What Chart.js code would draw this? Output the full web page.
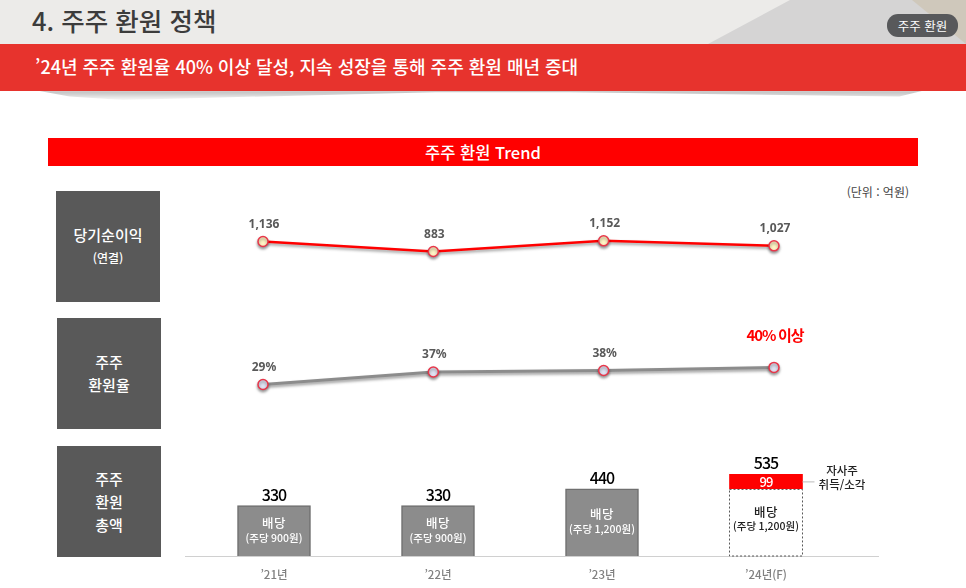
<!DOCTYPE html>
<html lang="ko">
<head>
<meta charset="utf-8">
<title>주주 환원 정책</title>
<script src="https://cdn.jsdelivr.net/npm/chart.js@4"></script>
<style>
  * { margin: 0; padding: 0; box-sizing: border-box; }
  html, body { width: 966px; height: 588px; overflow: hidden; background: #fff; }
  body { position: relative; font-family: "Noto Sans CJK KR", "Noto Sans", sans-serif; }
  .abs { position: absolute; }
  canvas { position: absolute; }
  #header-bg { left: 0; top: 0; width: 966px; height: 44px; background: #ecebe9; }
  #tri-grey { left: 700px; top: 0; width: 266px; height: 44px; background: #d5d4d4; clip-path: polygon(8px 44px, 90px 0, 266px 0, 266px 44px); }
  #tri-tan { left: 912px; top: 0; width: 54px; height: 44px; background: #cfc8bb; clip-path: polygon(0 0, 54px 0, 54px 44px); }
  #title { left: 32px; top: 2px; font-size: 25.5px; font-weight: 500; color: #3c3c3c; line-height: 36px; }
  #badge { left: 887px; top: 14px; width: 71px; height: 23px; border-radius: 11px; background: #58595b; color: #fff; font-size: 12.5px; line-height: 23px; text-align: center; }
  #band-shadow { left: 34px; top: 90px; width: 892px; height: 11px; background: linear-gradient(#b5b5b5, #fff); clip-path: polygon(0 0, 100% 0, 97% 60%, 60% 20%, 45% 20%, 10% 90%, 4% 60%); filter: blur(1.5px); }
  #band { left: 0; top: 44px; width: 966px; height: 47px; background: #e7332d; color: #fff; font-size: 18px; font-weight: 500; line-height: 45px; padding-left: 35px; }
  #section { left: 48px; top: 138px; width: 870px; height: 28px; background: #ff0000; color: #fff; font-size: 16.5px; font-weight: 500; line-height: 28px; text-align: center; }
  #unit { right: 57px; top: 184px; font-size: 12px; color: #444; line-height: 16px; }
  .side { width: 104px; height: 111px; background: #595959; color: #fff; font-size: 15px; font-weight: 500; display: flex; flex-direction: column; justify-content: center; align-items: center; line-height: 23px; padding-bottom: 1px; }
  .side small { font-size: 12px; }
</style>
</head>
<body>
<div class="abs" id="header-bg"></div>
<div class="abs" id="tri-grey"></div>
<div class="abs" id="tri-tan"></div>
<div class="abs" id="title">4. 주주 환원 정책</div>
<div class="abs" id="badge">주주 환원</div>
<div class="abs" id="band-shadow"></div>
<div class="abs" id="band">’24년 주주 환원율 40% 이상 달성, 지속 성장을 통해 주주 환원 매년 증대</div>
<div class="abs" id="section">주주 환원 Trend</div>
<div class="abs" id="unit">(단위 : 억원)</div>

<div class="abs side" style="left:56px;top:191px"><span>당기순이익</span><small>(연결)</small></div>
<div class="abs side" style="left:57px;top:318px"><span>주주</span><span>환원율</span></div>
<div class="abs side" style="left:57px;top:446px"><span>주주</span><span>환원</span><span>총액</span></div>

<canvas id="profit-chart" width="680" height="80" style="left:180px;top:200px"></canvas>
<canvas id="ratio-chart" width="680" height="80" style="left:180px;top:320px"></canvas>
<canvas id="payout-chart" width="694" height="148" style="left:185px;top:440px"></canvas>

<script>
const years = ['’21년', '’22년', '’23년', '’24년(F)'];

const netProfit = [1136, 883, 1152, 1027];
const payoutRatio = [29, 37, 38, 40];
const ratioLabels = ['29%', '37%', '38%', '40% 이상'];

const dividends = [330, 330, 440, 436];
const buybacks = [null, null, null, 99];
const totals = [330, 330, 440, 535];
const dividendNotes = ['(주당 900원)', '(주당 900원)', '(주당 1,200원)', '(주당 1,200원)'];

const FONT = '"Noto Sans CJK KR", "Noto Sans", sans-serif';

function drawText(ctx, text, x, y, font, color, spacing) {
  ctx.save();
  ctx.font = font;
  ctx.fillStyle = color;
  ctx.textAlign = 'center';
  ctx.textBaseline = 'middle';
  ctx.letterSpacing = spacing || '0px';
  ctx.fillText(text, x, y);
  ctx.restore();
}

// soft shadow under lines and points
const shadowPlugin = {
  id: 'shadow',
  beforeDatasetDraw(chart) {
    const ctx = chart.ctx;
    ctx.save();
    ctx.shadowColor = 'rgba(0, 0, 0, 0.4)';
    ctx.shadowBlur = 3;
    ctx.shadowOffsetY = 2;
  },
  afterDatasetDraw(chart) {
    chart.ctx.restore();
  }
};

function pointLabels(labels, lastOffset, lastFont, lastColor) {
  return {
    id: 'pointLabels',
    afterDatasetsDraw(chart) {
      const ctx = chart.ctx;
      chart.getDatasetMeta(0).data.forEach((pt, i) => {
        const last = lastFont && i === labels.length - 1;
        drawText(ctx, labels[i], pt.x + 1, pt.y - (last ? lastOffset : 17),
          last ? lastFont : `700 12px "Noto Sans", ${FONT}`, last ? lastColor : '#595959',
          last ? '-1px' : '0px');
      });
    }
  };
}

function makeLineChart(id, values, lineColor, lineWidth, fill, yMin, yMax, labelPlugin) {
  return new Chart(document.getElementById(id), {
    type: 'line',
    data: {
      labels: years,
      datasets: [{
        data: values,
        borderColor: lineColor,
        borderWidth: lineWidth,
        tension: 0,
        clip: false,
        pointRadius: 5,
        pointBorderWidth: 1.5,
        pointBackgroundColor: fill,
        pointBorderColor: '#e8364a'
      }]
    },
    options: {
      responsive: false,
      animation: false,
      layout: { padding: { left: 83, right: 86, top: 0, bottom: 0 } },
      plugins: { legend: { display: false }, tooltip: { enabled: false } },
      scales: {
        x: { display: false },
        y: { display: false, min: yMin, max: yMax }
      }
    },
    plugins: [shadowPlugin, labelPlugin]
  });
}

// y ranges allow for the 6.5px the library keeps free around the points
makeLineChart('profit-chart', netProfit, '#ff0000', 2.5, '#fff4c4', 326.5, 2021.5,
  pointLabels(netProfit.map(v => v.toLocaleString('en-US'))));

makeLineChart('ratio-chart', payoutRatio, '#8c8c8c', 3, '#dfe2f2', 23.22, 66.28,
  pointLabels(ratioLabels, 32, `700 15px ${FONT}`, '#ff0000'));

// baseline, dashed forecast box and the texts on and around the bars
const barTextPlugin = {
  id: 'barText',
  afterDatasetsDraw(chart) {
    const ctx = chart.ctx;
    const base = chart.scales.y.getPixelForValue(0);
    const lastIdx = years.length - 1;

    ctx.save();
    ctx.strokeStyle = '#d0d0d0';
    ctx.lineWidth = 1;
    ctx.beginPath();
    ctx.moveTo(0, base + 0.5);
    ctx.lineTo(chart.width, base + 0.5);
    ctx.stroke();
    ctx.restore();

    const divBars = chart.getDatasetMeta(0).data;
    divBars.forEach((bar, i) => {
      const forecast = i === lastIdx;
      const mid = (bar.y + base) / 2;
      const color = forecast ? '#222222' : '#ffffff';
      if (forecast) {
        ctx.save();
        ctx.strokeStyle = '#595959';
        ctx.lineWidth = 1;
        ctx.setLineDash([2, 2]);
        ctx.strokeRect(bar.x - bar.width / 2, bar.y, bar.width, base - bar.y);
        ctx.restore();
      }
      drawText(ctx, '배당', bar.x, mid - (forecast ? 10 : 8), `500 12.5px ${FONT}`, color, '0.5px');
      drawText(ctx, dividendNotes[i], bar.x, mid + (forecast ? 3 : 7), `500 10.5px ${FONT}`, color);
    });

    const red = chart.getDatasetMeta(1).data[lastIdx];
    const redMid = red.y + (red.base - red.y) / 2;
    drawText(ctx, String(buybacks[lastIdx]), red.x, redMid, `500 13px ${FONT}`, '#ffffff', '-1px');

    // connector and side note next to the red block
    ctx.save();
    ctx.strokeStyle = '#bbbbbb';
    ctx.beginPath();
    ctx.moveTo(red.x + red.width / 2, redMid);
    ctx.lineTo(red.x + red.width / 2 + 12, redMid);
    ctx.stroke();
    ctx.restore();
    drawText(ctx, '자사주', 657, 31, `500 11.5px ${FONT}`, '#222222');
    drawText(ctx, '취득/소각', 657, 45, `500 11.5px ${FONT}`, '#222222');

    totals.forEach((total, i) => {
      const top = i === lastIdx ? red.y : divBars[i].y;
      drawText(ctx, String(total), divBars[i].x, top - 11, `500 16px ${FONT}`, '#000000', '-1px');
    });
  }
};

new Chart(document.getElementById('payout-chart'), {
  type: 'bar',
  data: {
    labels: years,
    datasets: [
      {
        label: '배당',
        data: dividends,
        backgroundColor: ['#8c8c8c', '#8c8c8c', '#8c8c8c', '#ffffff'],
        borderColor: '#6f6f6f',
        borderWidth: [1.5, 1.5, 1.5, 0],
        barThickness: 73
      },
      {
        label: '자사주 취득/소각',
        data: buybacks,
        backgroundColor: '#ff0000',
        barThickness: 73
      }
    ]
  },
  options: {
    responsive: false,
    animation: false,
    layout: { padding: { left: 7, right: 31, top: 0, bottom: 0 } },
    plugins: { legend: { display: false }, tooltip: { enabled: false } },
    scales: {
      x: {
        stacked: true,
        grid: { display: false },
        border: { display: false },
        afterFit(scale) { scale.height = 32; },
        ticks: { color: '#808080', padding: 4, maxRotation: 0, font: { family: FONT, size: 11.5, weight: '500' } }
      },
      y: { stacked: true, display: false, min: 0, max: 760 }
    }
  },
  plugins: [barTextPlugin]
});
</script>
</body>
</html>
